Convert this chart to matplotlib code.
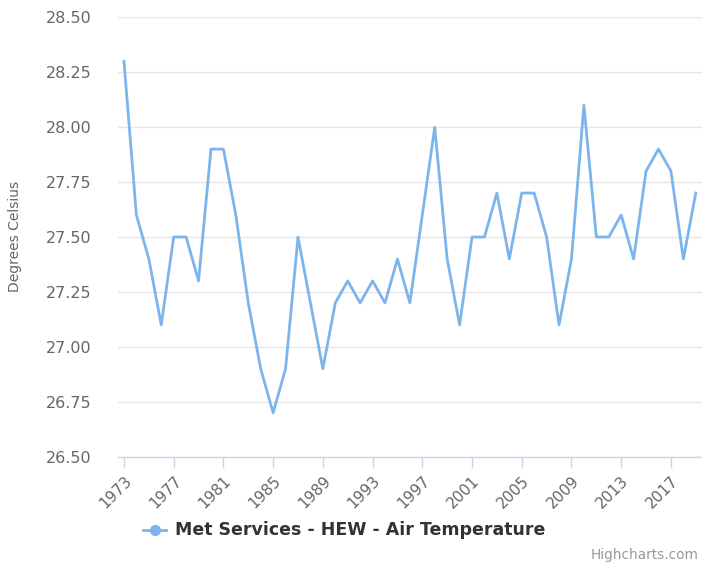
import matplotlib
matplotlib.use("Agg")
import matplotlib.pyplot as plt
from matplotlib.lines import Line2D

years = list(range(1973, 2020))
temps = [28.3, 27.6, 27.4, 27.1, 27.5, 27.5, 27.3, 27.9, 27.9, 27.6,
         27.2, 26.9, 26.7, 26.9, 27.5, 27.2, 26.9, 27.2, 27.3, 27.2,
         27.3, 27.2, 27.4, 27.2, 27.6, 28.0, 27.4, 27.1, 27.5, 27.5,
         27.7, 27.4, 27.7, 27.7, 27.5, 27.1, 27.4, 28.1, 27.5, 27.5,
         27.6, 27.4, 27.8, 27.9, 27.8, 27.4, 27.7]
series_name = "Met Services - HEW - Air Temperature"
y_ticks = [26.50, 26.75, 27.00, 27.25, 27.50, 27.75, 28.00, 28.25, 28.50]
x_ticks = list(range(1973, 2018, 4))
y_title = "Degrees Celsius"

plt.rcParams['font.family'] = ['DejaVu Sans']

fig = plt.figure(figsize=(7.02, 5.63), dpi=100)
W, H = 702, 563
left, right, top, bottom = 118, 702, 17.3, 456.7
ax = fig.add_axes([left / W, (H - bottom) / H, (right - left) / W, (bottom - top) / H])

color = "#7cb5ec"
ax.plot(years, temps, color=color, lw=2.0, solid_joinstyle="round", zorder=3, clip_on=False)

ax.set_xlim(1972.52, 2019.5)
ax.set_ylim(26.5, 28.5)
ax.set_yticks(y_ticks)
ax.set_yticklabels([f"{v:.2f}" for v in y_ticks], color="#666666", fontsize=11.5)
ax.set_xticks(x_ticks)
ax.set_xticklabels([str(v) for v in x_ticks], rotation=45, ha="right",
                   rotation_mode="anchor", color="#666666", fontsize=11)

ax.grid(axis="y", color="#e6e6e6", lw=1)
ax.set_axisbelow(True)
for s in ["top", "right", "left"]:
    ax.spines[s].set_visible(False)
ax.spines["bottom"].set_color("#ccd6eb")
ax.spines["bottom"].set_linewidth(1)
ax.tick_params(axis="y", length=0, pad=19)
ax.tick_params(axis="x", length=8, color="#ccd6eb", width=1, pad=4, direction="out")

fig.text(15 / W, (H - 236) / H, y_title, rotation=90, ha="center", va="center",
         color="#666666", fontsize=10)

# legend
ly = (H - 530) / H
fig.add_artist(Line2D([143 / W, 166 / W], [ly, ly], color=color, lw=2,
                      transform=fig.transFigure))
fig.add_artist(Line2D([154.5 / W], [ly], color=color, marker="o", markersize=7,
                      lw=0, transform=fig.transFigure))
fig.text(175 / W, ly, series_name, ha="left", va="center", color="#333333",
         fontsize=12.5, fontweight="bold")
fig.text(699 / W, (H - 555) / H, "Highcharts.com", ha="right", va="center",
         color="#999999", fontsize=9.8)

fig.savefig("out.png", dpi=100)
